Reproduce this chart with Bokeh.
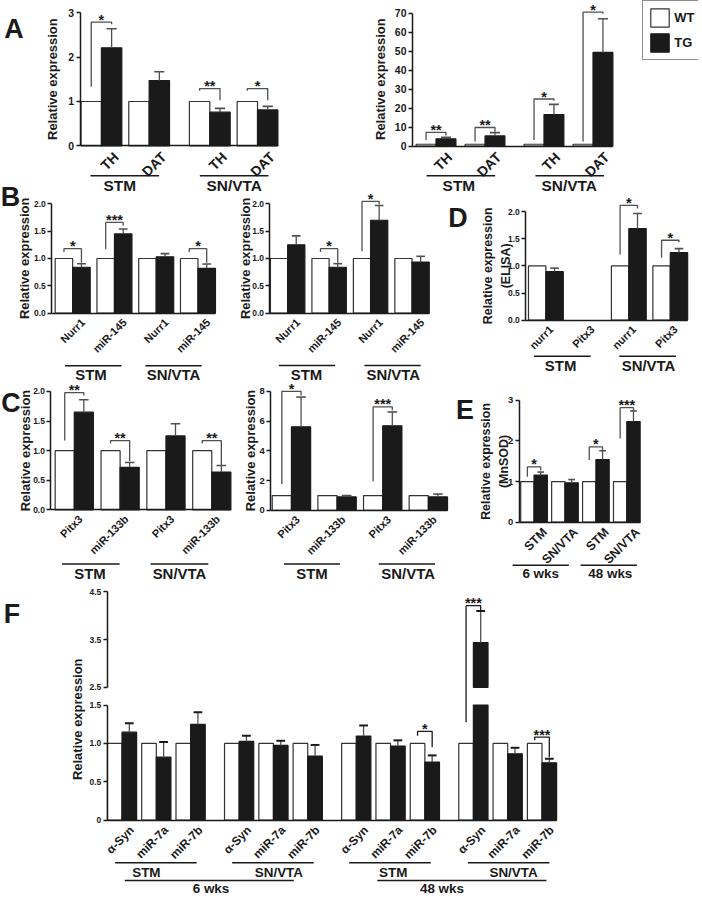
import numpy as np
from bokeh.plotting import figure
from bokeh.models import (Range1d, LinearAxis, FixedTicker, PrintfTickFormatter,
                          Legend, LegendItem)
from bokeh.embed import file_html
from bokeh.resources import INLINE
from bokeh.core.properties import value

S = 0.995
FONT = "Liberation Sans"
INK = "#1a1a1a"
EDGE = "#333333"
WHISK = "#505050"
STAR_FS = 14.5
W_REF, H_REF = 702, 900

# ======================= DATA =======================
LEGEND_LABELS = ["WT", "TG"]

A1_genes = ["TH", "DAT", "TH", "DAT"]
A1_regions = ["STM", "SN/VTA"]
A1_wt = [1.0, 1.0, 1.0, 1.0]
A1_tg = [2.21, 1.47, 0.76, 0.81]
A1_sem = [0.43, 0.20, 0.085, 0.08]
A1_sig = [(0, "*", 2.79, 1.33, 2.74), (2, "**", 1.29, 1.24, 1.03), (3, "*", 1.29, 1.24, 1.03)]
A1_ticks = [0, 1, 2, 3]

A2_genes = ["TH", "DAT", "TH", "DAT"]
A2_regions = ["STM", "SN/VTA"]
A2_wt = [1.0, 1.0, 1.0, 1.0]
A2_tg = [3.9, 5.4, 16.6, 49.3]
A2_sem = [0.8, 1.7, 5.4, 17.7]
A2_sig = [(0, "**", 7.3, 3.3, 5.6), (1, "**", 9.8, 2.4, 7.6), (2, "*", 24.8, 3.3, 23.9), (3, "*", 70.5, 2.4, 69.7)]
A2_ticks = [0, 10, 20, 30, 40, 50, 60, 70]

B1_genes = ["Nurr1", "miR-145", "Nurr1", "miR-145"]
B1_regions = ["STM", "SN/VTA"]
B1_wt = [1.0, 1.0, 1.0, 1.0]
B1_tg = [0.84, 1.45, 1.03, 0.82]
B1_sem = [0.065, 0.09, 0.06, 0.08]
B1_sig = [(0, "*", 1.18, 1.12, 0.92), (1, "***", 1.66, 1.17, 1.60), (3, "*", 1.18, 1.12, 0.92)]

B2_genes = ["Nurr1", "miR-145", "Nurr1", "miR-145"]
B2_regions = ["STM", "SN/VTA"]
B2_wt = [1.0, 1.0, 1.0, 1.0]
B2_tg = [1.25, 0.84, 1.70, 0.935]
B2_sem = [0.165, 0.065, 0.27, 0.105]
B2_sig = [(1, "*", 1.18, 1.12, 0.92), (2, "*", 2.045, 1.135, 1.99)]

B_ticks = [0.0, 0.5, 1.0, 1.5, 2.0]

D_genes = ["nurr1", "Pitx3", "nurr1", "Pitx3"]
D_regions = ["STM", "SN/VTA"]
D_wt = [1.0, np.nan, 1.0, 1.0]
D_tg = [0.895, np.nan, 1.69, 1.245]
D_sem = [0.065, np.nan, 0.28, 0.075]
D_sig = [(2, "*", 2.12, 1.21, 2.06), (3, "*", 1.475, 1.15, 1.44)]

C1_genes = ["Pitx3", "miR-133b", "Pitx3", "miR-133b"]
C1_regions = ["STM", "SN/VTA"]
C1_wt = [1.0, 1.0, 1.0, 1.0]
C1_tg = [1.65, 0.72, 1.25, 0.64]
C1_sem = [0.21, 0.08, 0.205, 0.11]
C1_sig = [(0, "**", 1.98, 1.17, 1.93), (1, "**", 1.17, 1.12, 0.82), (3, "**", 1.17, 1.12, 0.76)]

C2_genes = ["Pitx3", "miR-133b", "Pitx3", "miR-133b"]
C2_regions = ["STM", "SN/VTA"]
C2_wt = [1.0, 1.0, 1.0, 1.0]
C2_tg = [5.62, 0.91, 5.69, 0.91]
C2_sem = [2.0, 0.09, 0.93, 0.19]
C2_sig = [(0, "*", 8.0, 1.78, 7.73), (2, "***", 6.96, 1.96, 6.73)]
C2_ticks = [0, 2, 4, 6, 8]

E_regions = ["STM", "SN/VTA", "STM", "SN/VTA"]
E_ages = ["6 wks", "48 wks"]
E_wt = [1.0, 1.0, 1.0, 1.0]
E_tg = [1.16, 0.97, 1.54, 2.48]
E_sem = [0.075, 0.08, 0.22, 0.26]
E_sig = [(0, "*", 1.36, 1.12, 1.28), (2, "*", 1.855, 1.53, 1.77), (3, "***", 2.82, 2.06, 2.74)]
E_ticks = [0, 1, 2, 3]

F_genes = ["α-Syn", "miR-7a", "miR-7b", "α-Syn", "miR-7a", "miR-7b",
           "α-Syn", "miR-7a", "miR-7b", "α-Syn", "miR-7a", "miR-7b"]
F_regions = ["STM", "SN/VTA", "STM", "SN/VTA"]
F_ages = ["6 wks", "48 wks"]
F_wt = [1.0] * 12
F_tg = [1.147, 0.82, 1.247, 1.026, 0.974, 0.835, 1.095, 0.965, 0.757, 3.44, 0.865, 0.748]
F_sem = [0.117, 0.197, 0.159, 0.074, 0.06, 0.145, 0.139, 0.075, 0.087, 0.66, 0.078, 0.052]
F_sig = [(8, "*", 1.156, 1.10, 0.95), (9, "***", 4.21, 1.277, 4.12), (11, "***", 1.082, 1.04, 0.82)]
F_ticks_low = [0.0, 0.5, 1.0, 1.5]
F_ticks_up = [2.5, 3.5, 4.5]
F_break = (1.5, 2.5)

# ======================= CANVAS =======================
p = figure(width=round(W_REF * S), height=round(H_REF * S),
           x_range=Range1d(0, W_REF), y_range=Range1d(0, H_REF),
           x_axis_type=None, y_axis_type=None, toolbar_location=None,
           output_backend="svg", min_border=0, outline_line_color=None,
           background_fill_color="white", border_fill_color="white")


def txt(xs, ys, texts, size, angle=0.0, align="center", baseline="middle", **kw):
    p.text(x=list(xs), y=list(ys), text=list(texts), angle=angle,
           text_align=align, text_baseline=baseline,
           text_font=value(FONT), text_font_style="bold",
           text_font_size=f"{size * S:.2f}px", text_color=INK, **kw)


def y_axis(lo, hi, ticks, fmt, fs, xloc, **kw):
    return LinearAxis(fixed_location=xloc, bounds=(lo, hi), ticker=FixedTicker(ticks=ticks),
                      formatter=PrintfTickFormatter(format=fmt),
                      axis_line_color=INK, axis_line_width=1.5,
                      major_tick_line_color=INK, major_tick_line_width=1.3,
                      major_tick_in=0, major_tick_out=4, minor_tick_line_color=None,
                      major_label_text_font=FONT, major_label_text_font_style="bold",
                      major_label_text_font_size=f"{fs * S:.2f}px", major_label_text_color=INK,
                      major_label_standoff=2, **kw)


def base_axis(x0, x1, **kw):
    return LinearAxis(fixed_location=0, bounds=(x0, x1), ticker=FixedTicker(ticks=[]),
                      axis_line_color=INK, axis_line_width=1.5,
                      major_tick_line_color=None, minor_tick_line_color=None,
                      major_label_text_font_size="0px", **kw)


def bar_panel(name, axis_x, base_y, k, first, bw, pitch, extra, gsize,
              genes, regions, wt, tg, sem, sig, ticks, fmt, tick_fs, y_top,
              titles, letter, cat_dx, cat_fs, grp_y, grp_lines, grp_half,
              grp_lab_y, grp_labs, grp_fs, title_fs=13):
    xd = lambda X: (X - first) / bw
    yd = lambda Y: (base_y - Y) / k
    nx, ny = name + "_x", name + "_y"
    p.extra_x_ranges[nx] = Range1d(xd(0), xd(W_REF))
    p.extra_y_ranges[ny] = Range1d(yd(H_REF), yd(0))
    R = dict(x_range_name=nx, y_range_name=ny)
    n = len(genes)
    pl = np.array([(i * pitch + (i // gsize) * extra) / bw for i in range(n)])
    wc, bc = pl + 0.5, pl + 1.5
    wt, tg, sem = (np.asarray(a, dtype=float) for a in (wt, tg, sem))
    mw, mt = ~np.isnan(wt), ~np.isnan(tg)
    rw = p.vbar(x=wc[mw], top=wt[mw], bottom=0, width=1, fill_color="white",
                line_color=EDGE, line_width=1.2, **R)
    rt = p.vbar(x=bc[mt], top=tg[mt], bottom=0, width=1, fill_color=INK,
                line_color=INK, line_width=1.2, **R)
    cap = tg + sem
    p.segment(bc[mt], tg[mt], bc[mt], cap[mt], line_color=WHISK, line_width=1.3, **R)
    p.segment(bc[mt] - 0.25, cap[mt], bc[mt] + 0.25, cap[mt], line_color=WHISK, line_width=1.6, **R)
    xs, ys, sx, sy, st = [], [], [], [], []
    for (i, lab, yl, ya, yb) in sig:
        xa, xb = wc[i], bc[i]
        xs.append([xa, xa, xb, xb]); ys.append([ya, yl, yl, yb])
        sx.append((xa + xb) / 2); sy.append(yl + 2.5 / k); st.append(lab)
    if xs:
        p.multi_line(xs=xs, ys=ys, line_color=WHISK, line_width=1.3, **R)
        txt(sx, sy, st, STAR_FS, baseline="alphabetic", **R)
    txt(pl + 1 + cat_dx / bw, [yd(base_y + 3)] * n, genes, cat_fs,
        angle=np.pi / 4, align="right", baseline="top", **R)
    g = len(grp_lines)
    p.segment(x0=[xd(c - grp_half) for c in grp_lines], y0=[yd(grp_y)] * g,
              x1=[xd(c + grp_half) for c in grp_lines], y1=[yd(grp_y)] * g,
              line_color=INK, line_width=1.5, **R)
    txt([xd(c) for c in grp_labs], [yd(grp_lab_y)] * len(grp_labs), regions, grp_fs, **R)
    for (t, X, Y) in titles:
        txt([xd(X)], [yd(Y)], [t], title_fs, angle=np.pi / 2, **R)
    if letter:
        txt([xd(letter[1])], [yd(letter[2])], [letter[0]], 27, **R)
    p.add_layout(y_axis(0, y_top, ticks, fmt, tick_fs, xd(axis_x), **R), "left")
    p.add_layout(base_axis(xd(axis_x), pl[-1] + 2, **R), "below")
    return rw, rt


# ======================= PANELS =======================
bar_panel("A1", 80, 146, 44.57, 81, 20.5, 48, 13, 2,
          A1_genes, A1_regions, A1_wt, A1_tg, A1_sem, A1_sig, A1_ticks, "%d", 10.5, 3,
          [("Relative expression", 52, 79)], ("A", 13.5, 28.5), 9, 14,
          176, [125, 235], 34.5, 186, [120, 235], 15.5)

rWT, rTG = bar_panel("A2", 414.3, 146.3, 1.909, 418, 20, 49.3, 10, 2,
                     A2_genes, A2_regions, A2_wt, A2_tg, A2_sem, A2_sig, A2_ticks, "%d", 10.5, 70,
                     [("Relative expression", 381.7, 79)], None, 8, 14,
                     176, [463, 572.5], 34.5, 186, [461, 572], 15.5)

legend = Legend(items=[LegendItem(label=LEGEND_LABELS[0], renderers=[rWT]),
                       LegendItem(label=LEGEND_LABELS[1], renderers=[rTG])],
                location=(645.5 * S, (H_REF - 60) * S), orientation="vertical", margin=0,
                border_line_color=INK, border_line_width=1.5, background_fill_alpha=1,
                padding=5, spacing=2, glyph_width=23, glyph_height=23, label_standoff=3,
                label_text_font=FONT, label_text_font_style="bold",
                label_text_font_size=f"{13 * S:.2f}px", label_text_color=INK)
p.add_layout(legend)

bar_panel("B1", 51.5, 314, 54.85, 55, 17.6, 42, 0, 2,
          B1_genes, B1_regions, B1_wt, B1_tg, B1_sem, B1_sig, B_ticks, "%.1f", 8.5, 2.0,
          [("Relative expression", 24, 259)], ("B", 10, 197), 6, 11,
          367, [93.3, 174], 28.3, 375.5, [91, 174], 15)

bar_panel("B2", 271, 314, 54.85, 271.5, 17.3, 41.7, 0, 2,
          B2_genes, B2_regions, B2_wt, B2_tg, B2_sem, B2_sig, B_ticks, "%.1f", 8.5, 2.0,
          [("Relative expression", 246, 259)], None, 6, 11,
          366.7, [308.3, 394.3], 28.3, 375.5, [307.7, 395], 15)

bar_panel("D", 528.3, 321, 54.35, 531, 17.5, 41.7, 0, 2,
          D_genes, D_regions, D_wt, D_tg, D_sem, D_sig, B_ticks, "%.1f", 8.5, 2.0,
          [("Relative expression", 490, 266.5), ("(ELISA)", 508, 266.5)], ("D", 460, 218), 1, 11,
          357.3, [565, 650.8], 28.5, 366.7, [563.3, 651.7], 15, title_fs=12.5)

bar_panel("C1", 50.7, 511.7, 59.5, 55, 19.2, 46.1, 0, 2,
          C1_genes, C1_regions, C1_wt, C1_tg, C1_sem, C1_sig, B_ticks, "%.1f", 8.5, 2.0,
          [("Relative expression", 25, 452)], ("C", 10.5, 404), 2, 11,
          566, [90.8, 180], 29, 576, [90, 180], 15)

bar_panel("C2", 271.7, 512.2, 14.94, 273.3, 19.3, 45.9, 0, 2,
          C2_genes, C2_regions, C2_wt, C2_tg, C2_sem, C2_sig, C2_ticks, "%d", 9.5, 8,
          [("Relative expression", 251, 452)], None, 2, 11,
          566, [313.3, 408.7], 28.3, 576, [313.3, 410], 15)

bar_panel("E", 521.7, 524, 40.77, 523.2, 13.4, 31.1, 0, 2,
          E_regions, E_ages, E_wt, E_tg, E_sem, E_sig, E_ticks, "%d", 9.5, 3,
          [("Relative expression", 488, 463), ("(MnSOD)", 506, 463)], ("E", 467, 411), 6, 12.5,
          567.3, [543.3, 611.7], 28.3, 576, [543.3, 613.3], 13.5, title_fs=12.5)

# ---------------- Panel F (broken axis) ----------------
F_first, F_bw, F_pitch, F_extra, F_gsize = 107.5, 14.7, 34.5, 14.3, 3
F_axis_x = 107.3
F_base, F_k = 823.3, 77.07          # lower segment: 0 .. 1.5
F_y25, F_kup = 690.0, 48.0           # upper segment: 2.5 .. 4.5
BLO, BHI = F_break
fxd = lambda X: (X - F_first) / F_bw
fyl = lambda Y: (F_base - Y) / F_k
fyu = lambda Y: BHI + (F_y25 - Y) / F_kup
p.extra_x_ranges["F_x"] = Range1d(fxd(0), fxd(W_REF))
p.extra_y_ranges["F_y"] = Range1d(fyl(H_REF), fyl(0))
p.extra_y_ranges["F_u"] = Range1d(fyu(H_REF), fyu(0))
RL = dict(x_range_name="F_x", y_range_name="F_y")
RU = dict(x_range_name="F_x", y_range_name="F_u")

n = len(F_genes)
fpl = np.array([(i * F_pitch + (i // F_gsize) * F_extra) / F_bw for i in range(n)])
fwc, fbc = fpl + 0.5, fpl + 1.5
ftg = np.asarray(F_tg, dtype=float)
fsem = np.asarray(F_sem, dtype=float)
fwt = np.asarray(F_wt, dtype=float)
fcap = ftg + fsem
up = ftg > BHI
lo = ~up

p.vbar(x=fwc, top=fwt, bottom=0, width=1, fill_color="white", line_color=EDGE, line_width=1.2, **RL)
p.vbar(x=fbc, top=np.minimum(ftg, BLO), bottom=0, width=1, fill_color=INK, line_color=INK,
       line_width=1.2, **RL)
p.vbar(x=fbc[up], top=ftg[up], bottom=BHI, width=1, fill_color=INK, line_color=INK,
       line_width=1.2, **RU)
p.segment(fbc[lo], ftg[lo], fbc[lo], fcap[lo], line_color=WHISK, line_width=1.3, **RL)
p.segment(fbc[lo] - 0.3, fcap[lo], fbc[lo] + 0.3, fcap[lo], line_color=INK, line_width=2, **RL)
p.segment(fbc[up], ftg[up], fbc[up], fcap[up], line_color=WHISK, line_width=1.3, **RU)
p.segment(fbc[up] - 0.3, fcap[up], fbc[up] + 0.3, fcap[up], line_color=INK, line_width=2, **RU)

lo_xs, lo_ys, up_xs, up_ys = [], [], [], []
for (i, lab, yl, ya, yb) in F_sig:
    xa, xb = fwc[i], fbc[i]
    if yl > BHI:
        up_xs.append([xa, xb, xb]); up_ys.append([yl, yl, yb])
        up_xs.append([xa, xa]); up_ys.append([yl, fyu(F_base - BLO * F_k)])
        lo_xs.append([xa, xa]); lo_ys.append([BLO, ya])
        txt([(xa + xb) / 2], [yl + 2.5 / F_kup], [lab], STAR_FS, baseline="alphabetic", **RU)
    else:
        lo_xs.append([xa, xa, xb, xb]); lo_ys.append([ya, yl, yl, yb])
        txt([(xa + xb) / 2], [yl + 2.5 / F_k], [lab], STAR_FS, baseline="alphabetic", **RL)
p.multi_line(xs=lo_xs, ys=lo_ys, line_color=INK, line_width=1.3, **RL)
p.multi_line(xs=up_xs, ys=up_ys, line_color=INK, line_width=1.3, **RU)

txt(fpl + 1 + 5 / F_bw, [fyl(F_base + 3)] * n, F_genes, 12,
    angle=np.pi / 4, align="right", baseline="top", **RL)
l1 = [156.3, 274, 391.7, 511]
p.segment(x0=[fxd(c - 41) for c in l1], y0=[fyl(866)] * 4, x1=[fxd(c + 41) for c in l1],
          y1=[fyl(866)] * 4, line_color=INK, line_width=1.5, **RL)
txt([fxd(c) for c in [146.7, 280, 395, 516]], [fyl(876)] * 4, F_regions, 13.5, **RL)
l2 = [210, 464]
p.segment(x0=[fxd(c - 85) for c in l2], y0=[fyl(884)] * 2, x1=[fxd(c + 85) for c in l2],
          y1=[fyl(884)] * 2, line_color=INK, line_width=1.5, **RL)
txt([fxd(c) for c in [211.7, 444]], [fyl(892)] * 2, F_ages, 13.5, **RL)
txt([fxd(77)], [fyl(722)], ["Relative expression"], 13, angle=np.pi / 2, **RL)
txt([fxd(11.5)], [fyl(616)], ["F"], 27, **RL)

ax_lo = y_axis(0, BLO, F_ticks_low, "%.1f", 8.5, fxd(F_axis_x), **RL)
ax_lo.major_label_overrides = {0: "0"}
p.add_layout(ax_lo, "left")
p.add_layout(y_axis(BHI, F_ticks_up[-1], F_ticks_up, "%.1f", 8.5, fxd(F_axis_x), **RU), "left")
p.add_layout(base_axis(fxd(F_axis_x), fpl[-1] + 2, **RL), "below")

open("out.html", "w").write(file_html(p, INLINE))
